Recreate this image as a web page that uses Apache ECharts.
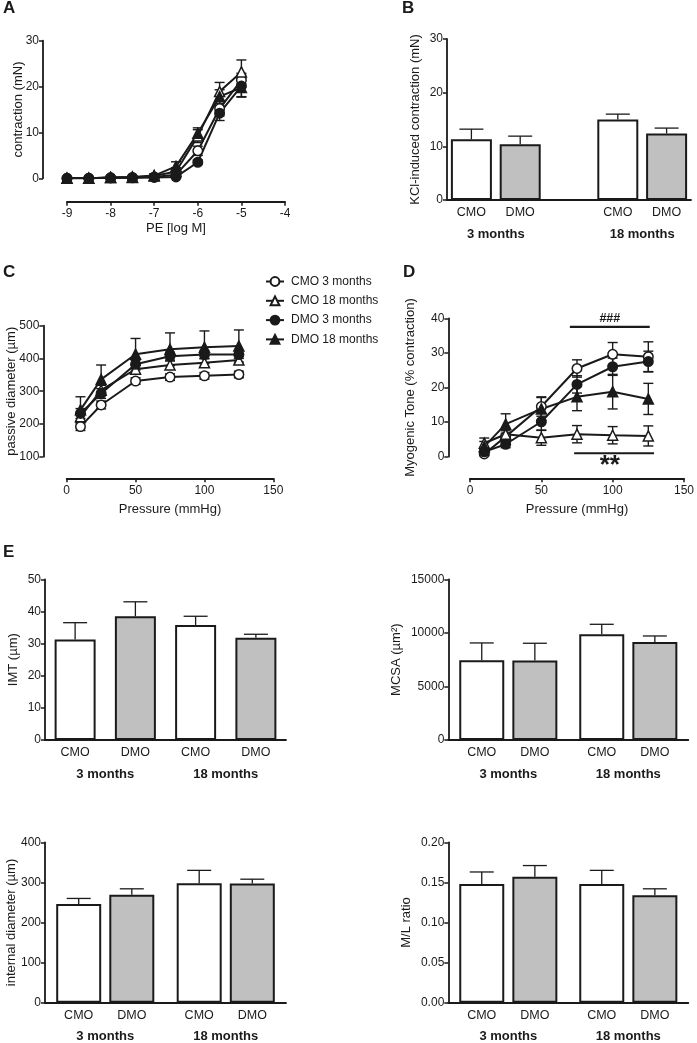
<!DOCTYPE html>
<html>
<head>
<meta charset="utf-8">
<script src="https://cdn.jsdelivr.net/npm/echarts@6/dist/echarts.min.js"></script>
<style>
  html, body { margin: 0; padding: 0; background: #fff; }
  #main { width: 697px; height: 1043px; }
</style>
</head>
<body>
<div id="main"></div>
<script>
var FONT = '"Liberation Sans", Arial, sans-serif';
var INK = '#1a1a1a';

// group names shared by the line panels (A, C, D)
var groupNames = ['CMO 3 months', 'CMO 18 months', 'DMO 3 months', 'DMO 18 months'];

// A: PE concentration-response (contraction, mN)
var peLogM = [-9, -8.5, -8, -7.5, -7, -6.5, -6, -5.5, -5];
var aCmo3 = [0, 0, 0.1, 0.2, 0.3, 0.8, 6.0, 15.2, 21.4];
var aCmo3Err = [0.1, 0.1, 0.2, 0.2, 0.3, 0.5, 1.0, 1.6, 1.5];
var aCmo18 = [0, 0, 0.2, 0.2, 0.5, 1.5, 9.2, 18.9, 23.2];
var aCmo18Err = [0.1, 0.1, 0.2, 0.2, 0.3, 0.8, 1.4, 2.0, 2.6];
var aDmo3 = [0, 0, 0.1, 0.1, 0.2, 0.3, 3.5, 14.2, 20.1];
var aDmo3Err = [0.1, 0.1, 0.1, 0.2, 0.2, 0.3, 0.5, 1.6, 2.4];
var aDmo18 = [0, 0, 0.2, 0.3, 0.6, 2.6, 9.8, 17.8, 19.8];
var aDmo18Err = [0.1, 0.1, 0.2, 0.2, 0.4, 1.0, 1.2, 1.5, 2.0];

// C / D: pressure steps (mmHg)
var pressure = [10, 25, 50, 75, 100, 125];
// C: passive diameter (µm)
var cCmo3 = [192, 258, 331, 343, 347, 351];
var cCmo3Err = [12, 12, 10, 10, 10, 10];
var cCmo18 = [222, 303, 367, 380, 387, 395];
var cCmo18Err = [12, 15, 12, 12, 12, 12];
var cDmo3 = [232, 293, 382, 407, 412, 412];
var cDmo3Err = [15, 15, 12, 12, 12, 12];
var cDmo18 = [243, 336, 413, 428, 434, 438];
var cDmo18Err = [40, 44, 48, 50, 50, 49];
// D: myogenic tone (% contraction)
var dCmo3 = [0.8, 5.8, 14.5, 25.5, 29.6, 28.9];
var dCmo3Err = [0.5, 1.0, 2.8, 2.5, 3.4, 4.3];
var dCmo18 = [3.9, 6.5, 5.5, 6.5, 6.2, 6.0];
var dCmo18Err = [1.5, 1.0, 2.2, 2.5, 2.5, 2.9];
var dDmo3 = [1.4, 3.6, 10.1, 20.9, 26.0, 27.5];
var dDmo3Err = [0.8, 1.0, 2.5, 2.5, 2.5, 3.0];
var dDmo18 = [2.9, 9.4, 13.8, 17.3, 18.8, 16.7];
var dDmo18Err = [1.5, 3.0, 3.3, 4.0, 5.0, 4.5];
// significance bars in D
var hashBarX = [70, 126], hashBarY = 37.5;
var starBarX = [73, 129], starBarY = 1.0;

// bar panels
var ages = ['3 months', '18 months'];
var diets = ['CMO', 'DMO'];
var kclCmo = [11.3, 15.0], kclCmoErr = [1.9, 1.0];
var kclDmo = [10.4, 12.4], kclDmoErr = [1.5, 1.0];
var imtCmo = [31.3, 35.8], imtCmoErr = [5.2, 2.7];
var imtDmo = [38.5, 31.8], imtDmoErr = [4.5, 1.1];
var mcsaCmo = [7440, 9870], mcsaCmoErr = [1620, 930];
var mcsaDmo = [7410, 9150], mcsaDmoErr = [1620, 560];
var idCmo = [246, 298], idCmoErr = [14, 32];
var idDmo = [269, 297], idDmoErr = [15, 11];
var mlCmo = [0.148, 0.148], mlCmoErr = [0.015, 0.017];
var mlDmo = [0.157, 0.134], mlDmoErr = [0.014, 0.008];

// ---------------------------------------------------------------
function merge(a, b) {
  var out = {};
  var k;
  for (k in a) out[k] = a[k];
  for (k in b) {
    if (b[k] && typeof b[k] === 'object' && !Array.isArray(b[k]) && a[k] && typeof a[k] === 'object') {
      out[k] = merge(a[k], b[k]);
    } else {
      out[k] = b[k];
    }
  }
  return out;
}

function axis(extra) {
  return merge({
    axisLine: { show: true, onZero: false, lineStyle: { color: INK, width: 1.8 } },
    axisTick: { show: true, length: 4, lineStyle: { color: INK, width: 1.5 } },
    axisLabel: { color: INK, fontSize: 12, fontFamily: FONT, margin: 4 },
    splitLine: { show: false },
    nameLocation: 'middle',
    nameMoveOverlap: false,
    nameTextStyle: { color: INK, fontSize: 13, fontFamily: FONT }
  }, extra);
}

var plain = function (v) { return String(v); };

function errorBars(xi, yi, data, opt) {
  return {
    type: 'custom', xAxisIndex: xi, yAxisIndex: yi, z: 3, silent: true,
    data: data, encode: { x: 0, y: 1 },
    renderItem: function (params, api) {
      var x = api.value(0), y = api.value(1), e = api.value(2);
      var hi = api.coord([x, y + e]);
      var lo = api.coord([x, opt.both ? y - e : y]);
      var cx = hi[0] + (opt.dx || 0), h = opt.cap / 2;
      var st = { stroke: INK, lineWidth: opt.width || 1.4 };
      var kids = [
        { type: 'line', shape: { x1: cx, y1: hi[1], x2: cx, y2: lo[1] }, style: st },
        { type: 'line', shape: { x1: cx - h, y1: hi[1], x2: cx + h, y2: hi[1] }, style: st }
      ];
      if (opt.both) {
        kids.push({ type: 'line', shape: { x1: cx - h, y1: lo[1], x2: cx + h, y2: lo[1] }, style: st });
      }
      return { type: 'group', children: kids };
    }
  };
}

var symbols = ['circle', 'triangle', 'circle', 'triangle'];
var fills = ['#fff', '#fff', INK, INK];

function lineGroup(xi, yi, xs, sets, series) {
  sets.forEach(function (s, i) {
    var pts = xs.map(function (x, k) { return [x, s[0][k]]; });
    var errs = xs.map(function (x, k) { return [x, s[0][k], s[1][k]]; });
    series.push(errorBars(xi, yi, errs, { both: true, cap: 10, width: 1.4 }));
    series.push({
      type: 'line', name: groupNames[i], xAxisIndex: xi, yAxisIndex: yi, z: 4,
      data: pts, symbol: symbols[i], symbolSize: symbols[i] === 'circle' ? 9.5 : 10,
      lineStyle: { color: INK, width: 2 },
      itemStyle: { color: fills[i], borderColor: INK, borderWidth: 1.5 },
      silent: true
    });
  });
}

function barGroup(xi, yi, cmo, cmoErr, dmo, dmoErr, bw, gapPct, series) {
  var dx = (bw + bw * gapPct / 100) / 2;
  var lab = { show: true, position: 'bottom', distance: 6, color: INK, fontSize: 12.5, fontFamily: FONT };
  series.push({
    type: 'bar', name: diets[0], xAxisIndex: xi, yAxisIndex: yi, data: cmo,
    barWidth: bw, barGap: gapPct + '%', silent: true,
    itemStyle: { color: '#fff', borderColor: INK, borderWidth: 2 },
    label: merge(lab, { formatter: diets[0] })
  });
  series.push({
    type: 'bar', name: diets[1], xAxisIndex: xi, yAxisIndex: yi, data: dmo,
    barWidth: bw, barGap: gapPct + '%', silent: true,
    itemStyle: { color: '#c0c0c0', borderColor: INK, borderWidth: 2 },
    label: merge(lab, { formatter: diets[1] })
  });
  series.push(errorBars(xi, yi, cmo.map(function (v, k) { return [k, v, cmoErr[k]]; }), { dx: -dx, cap: 24, width: 1.3 }));
  series.push(errorBars(xi, yi, dmo.map(function (v, k) { return [k, v, dmoErr[k]]; }), { dx: dx, cap: 24, width: 1.3 }));
}

var grids = [
  { left: 67, top: 40.7, width: 218, height: 137.6 },     // A
  { left: 447, top: 39, width: 244, height: 161 },        // B
  { left: 66.7, top: 325.7, width: 206.6, height: 131 },  // C
  { left: 470, top: 318.3, width: 216.7, height: 138.4 }, // D
  { left: 45, top: 579.3, width: 241, height: 160.7 },    // E IMT
  { left: 448.3, top: 579.3, width: 240, height: 160.7 }, // E MCSA
  { left: 45, top: 842.3, width: 241, height: 160.4 },    // E internal diameter
  { left: 448.3, top: 842.3, width: 240, height: 160.4 }  // E M/L
];

var bCats = [diets[0], diets[1], '', diets[0], diets[1]];
var groupLab = { color: INK, fontSize: 13, fontWeight: 'bold', fontFamily: FONT, margin: 28 };

var xAxes = [
  axis({ gridIndex: 0, type: 'value', min: -9, max: -4, interval: 1, offset: 23.4,
         name: 'PE [log M]', nameGap: 20, axisLabel: { margin: 6 } }),
  axis({ gridIndex: 1, type: 'category', data: bCats, axisTick: { show: false },
         axisLabel: { margin: 6, interval: 0, fontSize: 12.5 } }),
  axis({ gridIndex: 1, type: 'value', position: 'bottom', min: -0.5, max: 4.5,
         axisLine: { show: false }, axisTick: { show: false },
         axisLabel: merge(groupLab, { customValues: [0.5, 3.5],
           formatter: function (v) { return v < 2 ? ages[0] : ages[1]; } }) }),
  axis({ gridIndex: 2, type: 'value', min: 0, max: 150, interval: 50, offset: 21.6,
         name: 'Pressure (mmHg)', nameGap: 25, axisLabel: { margin: 6 } }),
  axis({ gridIndex: 3, type: 'value', min: 0, max: 150, interval: 50, offset: 21.6,
         name: 'Pressure (mmHg)', nameGap: 25, axisLabel: { margin: 6 } }),
  axis({ gridIndex: 4, type: 'category', data: ages, axisTick: { show: false }, axisLabel: groupLab }),
  axis({ gridIndex: 5, type: 'category', data: ages, axisTick: { show: false }, axisLabel: groupLab }),
  axis({ gridIndex: 6, type: 'category', data: ages, axisTick: { show: false }, axisLabel: merge(groupLab, { margin: 27 }) }),
  axis({ gridIndex: 7, type: 'category', data: ages, axisTick: { show: false }, axisLabel: merge(groupLab, { margin: 27 }) })
];

var yAxes = [
  axis({ gridIndex: 0, type: 'value', min: 0, max: 30, interval: 10, offset: 24,
         name: 'contraction (mN)', nameGap: 18 }),
  axis({ gridIndex: 1, type: 'value', min: 0, max: 30, interval: 10,
         name: 'KCl-induced contraction (mN)', nameGap: 25 }),
  axis({ gridIndex: 2, type: 'value', min: 100, max: 500, interval: 100, offset: 23.4,
         name: 'passive diameter (µm)', nameGap: 25 }),
  axis({ gridIndex: 3, type: 'value', min: 0, max: 40, interval: 10, offset: 21.7,
         name: 'Myogenic Tone (% contraction)', nameGap: 31 }),
  axis({ gridIndex: 4, type: 'value', min: 0, max: 50, interval: 10,
         name: 'IMT (µm)', nameGap: 25 }),
  axis({ gridIndex: 5, type: 'value', min: 0, max: 15000, interval: 5000,
         name: 'MCSA (µm²)', nameGap: 45, axisLabel: { formatter: plain } }),
  axis({ gridIndex: 6, type: 'value', min: 0, max: 400, interval: 100,
         name: 'internal diameter (µm)', nameGap: 27 }),
  axis({ gridIndex: 7, type: 'value', min: 0, max: 0.2, interval: 0.05,
         name: 'M/L ratio', nameGap: 35,
         axisLabel: { formatter: function (v) { return v.toFixed(2); } } })
];

var series = [];

// A
lineGroup(0, 0, peLogM, [[aCmo3, aCmo3Err], [aCmo18, aCmo18Err], [aDmo3, aDmo3Err], [aDmo18, aDmo18Err]], series);

// B: five slots, CMO / DMO / gap / CMO / DMO
var bCmo = [kclCmo[0], '-', '-', kclCmo[1], '-'];
var bDmo = ['-', kclDmo[0], '-', '-', kclDmo[1]];
series.push({ type: 'bar', name: 'CMO', xAxisIndex: 1, yAxisIndex: 1, data: bCmo, barWidth: 41, barGap: '-100%', silent: true,
  itemStyle: { color: '#fff', borderColor: INK, borderWidth: 2 } });
series.push({ type: 'bar', name: 'DMO', xAxisIndex: 1, yAxisIndex: 1, data: bDmo, barWidth: 41, barGap: '-100%', silent: true,
  itemStyle: { color: '#c0c0c0', borderColor: INK, borderWidth: 2 } });
series.push(errorBars(1, 1, [[0, kclCmo[0], kclCmoErr[0]], [3, kclCmo[1], kclCmoErr[1]]], { cap: 24, width: 1.3 }));
series.push(errorBars(1, 1, [[1, kclDmo[0], kclDmoErr[0]], [4, kclDmo[1], kclDmoErr[1]]], { cap: 24, width: 1.3 }));

// C
lineGroup(3, 2, pressure, [[cCmo3, cCmo3Err], [cCmo18, cCmo18Err], [cDmo3, cDmo3Err], [cDmo18, cDmo18Err]], series);

// D
lineGroup(4, 3, pressure, [[dCmo3, dCmo3Err], [dCmo18, dCmo18Err], [dDmo3, dDmo3Err], [dDmo18, dDmo18Err]], series);
series.push({ type: 'line', xAxisIndex: 4, yAxisIndex: 3, symbol: 'none', silent: true, z: 5,
  data: hashBarX.map(function (x) { return [x, hashBarY]; }), lineStyle: { color: INK, width: 2.2 } });
series.push({ type: 'line', xAxisIndex: 4, yAxisIndex: 3, symbol: 'none', silent: true, z: 5,
  data: starBarX.map(function (x) { return [x, starBarY]; }), lineStyle: { color: INK, width: 2.2 } });
series.push({ type: 'scatter', xAxisIndex: 4, yAxisIndex: 3, symbolSize: 0, silent: true,
  itemStyle: { opacity: 1 },
  data: [[(hashBarX[0] + hashBarX[1]) / 2, hashBarY]],
  label: { show: true, position: 'top', distance: 2, formatter: '###', color: INK, fontSize: 12.5,
           fontWeight: 'bold', fontFamily: FONT } });
series.push({ type: 'scatter', xAxisIndex: 4, yAxisIndex: 3, symbolSize: 0, silent: true,
  itemStyle: { opacity: 1 },
  data: [[(hashBarX[0] + hashBarX[1]) / 2, starBarY]],
  label: { show: true, position: 'bottom', distance: 0, formatter: '**', color: INK, fontSize: 26,
           fontWeight: 'bold', fontFamily: FONT } });

// E
barGroup(5, 4, imtCmo, imtCmoErr, imtDmo, imtDmoErr, 41, 47, series);
barGroup(6, 5, mcsaCmo, mcsaCmoErr, mcsaDmo, mcsaDmoErr, 45, 18, series);
barGroup(7, 6, idCmo, idCmoErr, idDmo, idDmoErr, 45, 18, series);
barGroup(8, 7, mlCmo, mlCmoErr, mlDmo, mlDmoErr, 45, 18, series);

function letter(t, x, y) {
  return { type: 'text', left: x, top: y, style: { text: t, font: 'bold 17px ' + FONT, fill: INK } };
}

var chart = echarts.init(document.getElementById('main'));
chart.setOption({
  animation: false,
  backgroundColor: '#fff',
  grid: grids,
  xAxis: xAxes,
  yAxis: yAxes,
  legend: {
    data: groupNames, orient: 'vertical', left: 260, top: 270.5,
    itemWidth: 18, itemHeight: 11, itemGap: 7.3, selectedMode: false,
    textStyle: { color: INK, fontSize: 12, fontFamily: FONT, padding: [0, 0, 0, 2] }
  },
  graphic: [letter('A', 3, 0), letter('B', 402, 0), letter('C', 3, 264), letter('D', 403, 264), letter('E', 3, 544)],
  series: series
});
</script>
</body>
</html>
